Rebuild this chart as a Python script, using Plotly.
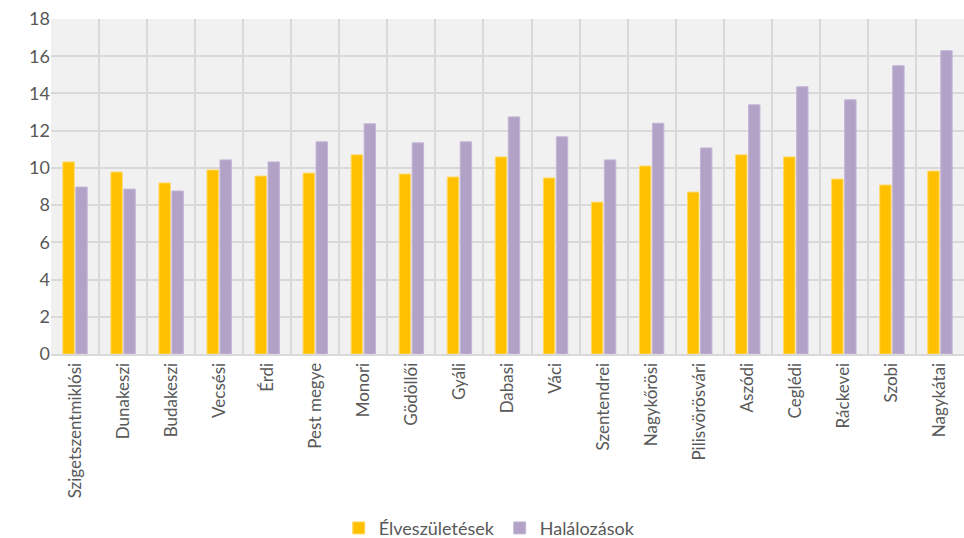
import plotly.graph_objects as go

jarasok = ["Szigetszentmiklósi", "Dunakeszi", "Budakeszi", "Vecsési", "Érdi", "Pest megye",
           "Monori", "Gödöllői", "Gyáli", "Dabasi", "Váci", "Szentendrei", "Nagykőrösi",
           "Pilisvörösvári", "Aszódi", "Ceglédi", "Ráckevei", "Szobi", "Nagykátai"]
elveszuletesek = [10.32, 9.78, 9.19, 9.89, 9.56, 9.72, 10.7, 9.67, 9.51, 10.59, 9.46,
                  8.16, 10.1, 8.7, 10.7, 10.59, 9.4, 9.08, 9.83]
halalozasok = [8.97, 8.86, 8.76, 10.43, 10.32, 11.4, 12.37, 11.35, 11.4, 12.74, 11.67,
               10.43, 12.4, 11.07, 13.39, 14.36, 13.66, 15.49, 16.3]

font = dict(family="Lato, 'Open Sans', sans-serif", size=18, color="#595959")

fig = go.Figure()
fig.add_trace(go.Bar(x=jarasok, y=elveszuletesek, name="Élveszületések",
                     marker=dict(color="#FFC000", line=dict(color="#FFD966", width=1))))
fig.add_trace(go.Bar(x=jarasok, y=halalozasok, name="Halálozások",
                     marker=dict(color="#B3A2C7", line=dict(color="#C4B6D6", width=1))))

fig.update_layout(
    width=964, height=538,
    margin=dict(l=51, r=0, t=19, b=184, autoexpand=False),
    paper_bgcolor="white",
    plot_bgcolor="#F1F1F1",
    font=font,
    bargap=0.46,
    bargroupgap=0.12,
    showlegend=True,
    legend=dict(orientation="h", x=0.48, xanchor="center", y=-0.52, yanchor="middle",
                font=dict(size=18, color="#595959"), itemwidth=30),
)
fig.update_xaxes(tickson="boundaries", showgrid=True, gridcolor="#D9D9D9", gridwidth=2,
                 tickangle=-90, ticks="", showline=True, linecolor="#D9D9D9", linewidth=2,
                 tickfont=dict(size=17), automargin=False)
fig.update_yaxes(range=[0, 18], dtick=2, showgrid=True, gridcolor="#D9D9D9", gridwidth=2,
                 zeroline=False, ticks="", showline=False, tickfont=dict(size=18),
                 automargin=False)

# page margin off so the figure sits at the window's corner
fig.write_html("out.html", config={"displayModeBar": False},
               post_script="document.body.style.margin='0';")
